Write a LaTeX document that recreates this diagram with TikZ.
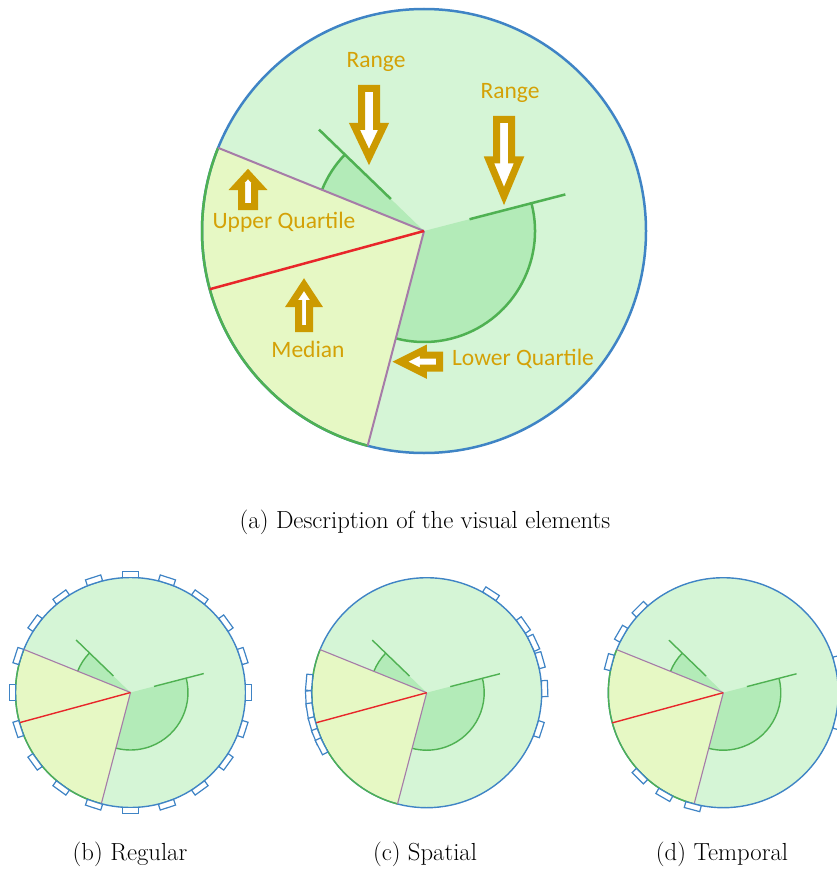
\documentclass[tikz,border=0pt]{standalone}
\usepackage{fontspec}
\newfontfamily\calib{Carlito}
\definecolor{wbg}{HTML}{D5F5D6}
\definecolor{wyel}{HTML}{E6F8C4}
\definecolor{wdark}{HTML}{B3EBB8}
\definecolor{wgreen}{HTML}{4FB152}
\definecolor{wblue}{HTML}{3F84C5}
\definecolor{wpurple}{HTML}{A67CA8}
\definecolor{wred}{HTML}{E8262A}
\definecolor{gold}{HTML}{CC9A00}
\definecolor{goldtext}{HTML}{D4A106}
\begin{document}
\begin{tikzpicture}[x=1pt,y=1pt,
  pics/wheel/.style={code={
    \fill[wbg] (0,0) circle (222);
    \fill[wyel] (0,0) -- (158:222) arc (158:255.3:222) -- cycle;
    \fill[wdark] (0,0) -- (136:110) arc (136:158:110) -- cycle;
    \fill[wdark] (0,0) -- (14.5:111) arc (14.5:-104.7:111) -- cycle;
    \draw[wblue, line width=#1] (0,0) circle (222);
    \draw[wgreen, line width=#1] (158:222) arc (158:255.3:222);
    \draw[wgreen, line width=#1] (136:110) arc (136:158:110);
    \draw[wgreen, line width=#1] (14.5:111) arc (14.5:-104.7:111);
    \draw[wgreen, line width=#1] (136:46) -- (136:146);
    \draw[wgreen, line width=#1] (14.5:47) -- (14.5:146);
    \draw[wpurple, line width=0.8*#1] (0,0) -- (158:222);
    \draw[wpurple, line width=0.8*#1] (0,0) -- (255.3:222);
    \draw[wred, line width=#1] (0,0) -- (195.2:222);
  }},
  pics/blockarr/.style n args={4}{code={
    \draw[draw=gold, fill=white, line width=7pt, line join=miter]
      (0,-#2) -- (#1-#4,-#2) -- (#1-#4,-#3) -- (#1,0) -- (#1-#4,#3) -- (#1-#4,#2) -- (0,#2) -- cycle;
  }},
  glabel/.style={text=goldtext, font=\calib\fontsize{23.5}{28}\selectfont, inner sep=0pt},
  capt/.style={font=\fontsize{24.7}{30}\selectfont, inner sep=0pt},
  bar/.style={draw=wblue, fill=white, line width=1.2pt}]
\useasboundingbox (0,0) rectangle (836,-869);
\pic (wa) at (424,-231) {wheel=2.5pt};
\pic[rotate=-90] (arw0) at (369,-88.5) {blockarr={68.5}{7.5}{14.5}{30.5}};
\pic[rotate=-90] (arw1) at (504,-119.5) {blockarr={76.5}{7.5}{15}{36}};
\pic[rotate=90] (arw2) at (248,-206.5) {blockarr={32.5}{6.5}{11.5}{12.5}};
\pic[rotate=90] (arw3) at (304,-328.5) {blockarr={43.9}{5.5}{12.5}{19}};
\pic[rotate=180] (arw4) at (439.5,-361.7) {blockarr={39.1}{6.5}{11.5}{23}};
\node[glabel] (lbl0) at (376,-62) {Range};
\node[glabel] (lbl1) at (510,-93) {Range};
\node[glabel] (lbl2) at (284,-222) {Upper Quartile};
\node[glabel] (lbl3) at (308,-349) {Median};
\node[glabel] (lbl4) at (523,-359) {Lower Quartile};
\node[capt] (capa) at (425,-522) {(a) Description of the visual elements};
\pic[scale=0.518] (wb) at (130.5,-692.5) {wheel=1.4pt};
\foreach \t in {0,18,...,342}
  \draw[bar, shift={(130.5,-692.5)}, rotate=\t] (115,-8) rectangle (121,8);
\pic[scale=0.518] (wc) at (426.7,-692.7) {wheel=1.4pt};
\foreach \t in {57,35,25,16,2,-18,175,183,189,196,202,207}
  \draw[bar, shift={(426.7,-692.7)}, rotate=\t] (115,-8) rectangle (121,8);
\pic[scale=0.518] (wd) at (723.3,-692.7) {wheel=1.4pt};
\foreach \t in {135,150,165,225,240,255,14,-14}
  \draw[bar, shift={(723.3,-692.7)}, rotate=\t] (115,-8) rectangle (121,8);
\node[capt] (capb) at (130,-854) {(b) Regular};
\node[capt] (capc) at (425,-854) {(c) Spatial};
\node[capt] (capd) at (722,-854) {(d) Temporal};
\end{tikzpicture}
\end{document}
